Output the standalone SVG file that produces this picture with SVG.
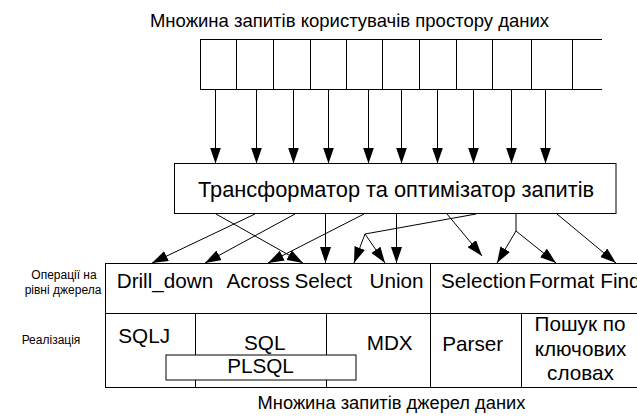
<svg xmlns="http://www.w3.org/2000/svg" width="637" height="418" viewBox="0 0 637 418">
<defs>
<marker id="ah" markerWidth="16" markerHeight="11" refX="16" refY="5.5" orient="auto" markerUnits="userSpaceOnUse"><path d="M0,0 L16,5.5 L0,11 z" fill="#000"/></marker>
<style>
text{font-family:"Liberation Sans",Arial,sans-serif;fill:#000}
.t{font-size:20.7px}
.h{font-size:18.5px}
.s{font-size:12px}
.ln{stroke:#000;stroke-width:1;fill:none}
.box{stroke:#000;stroke-width:1;fill:#fff}
.ar{stroke:#000;stroke-width:1;fill:none;marker-end:url(#ah)}
.m{text-anchor:middle}
</style>
</defs>
<rect width="637" height="418" fill="#fff"/>

<g id="title-users">
<text class="h m" x="349.5" y="27">Множина запитів користувачів простору даних</text>
</g>

<g id="user-queries">
<path class="ln" d="M200,39.5 H602 M200,89.5 H602 M200.5,39 V90 M236.5,39 V90 M273.5,39 V90 M310.5,39 V90 M346.5,39 V90 M382.5,39 V90 M419.5,39 V90 M456.5,39 V90 M492.5,39 V90 M531.5,39 V90 M572.5,39 V90"/>
</g>

<g id="transformer">
<rect class="box" x="174.5" y="163.5" width="441.5" height="50"/>
<text class="m" style="font-size:21.8px" x="396" y="196.5">Трансформатор та оптимізатор запитів</text>
</g>

<g id="row-labels">
<text class="s m" x="64" y="279">Операції на</text>
<text class="s m" x="63" y="294">рівні джерела</text>
<text class="s m" x="51" y="344">Реалізація</text>
</g>

<g id="source-operations">
<path class="ln" d="M105,263.5 H637 M105,313.5 H637 M105.5,263 V388 M105,387.5 H637 M430.5,263 V388"/>
<text class="t" x="116.7" y="287.5">Drill_down</text>
<text class="t" x="226.5" y="287.5">Across</text>
<text class="t" x="294.5" y="287.5">Select</text>
<text class="t" x="369.5" y="287.5">Union</text>
<text class="t" x="441" y="287.5">Selection</text>
<text class="t" x="528.7" y="287.5">Format</text>
<text class="t" x="600.3" y="287.5">Find</text>
</g>

<g id="implementation">
<path class="ln" d="M195.5,313 V388 M326.5,313 V388 M521.5,313 V388"/>
<text class="t" x="118.3" y="343">SQLJ</text>
<text class="t" x="244" y="349.7">SQL</text>
<text class="t" x="366.7" y="349.7">MDX</text>
<text class="t m" x="472.7" y="351.3">Parser</text>
<text class="t m" x="580" y="330.7">Пошук по</text>
<text class="t m" x="580.5" y="355.7">ключових</text>
<text class="t m" x="580.5" y="379.7">словах</text>
</g>

<g id="plsql">
<rect class="box" x="166" y="355" width="190" height="25"/>
<text class="t m" x="260.5" y="373">PLSQL</text>
</g>

<g id="title-sources">
<text class="m" style="font-size:18.3px" x="391.5" y="409">Множина запитів джерел даних</text>
</g>

<g id="connectors">
<line class="ar" x1="215.5" y1="90" x2="215.5" y2="163.5"/>
<line class="ar" x1="256.5" y1="90" x2="256.5" y2="163.5"/>
<line class="ar" x1="293.5" y1="90" x2="293.5" y2="163.5"/>
<line class="ar" x1="328.5" y1="90" x2="328.5" y2="163.5"/>
<line class="ar" x1="368.5" y1="90" x2="368.5" y2="163.5"/>
<line class="ar" x1="401.5" y1="90" x2="401.5" y2="163.5"/>
<line class="ar" x1="437.5" y1="90" x2="437.5" y2="163.5"/>
<line class="ar" x1="473.5" y1="90" x2="473.5" y2="163.5"/>
<line class="ar" x1="511.5" y1="90" x2="511.5" y2="163.5"/>
<line class="ar" x1="545.5" y1="90" x2="545.5" y2="163.5"/>

<line class="ar" x1="255" y1="214" x2="152" y2="263"/>
<line class="ar" x1="295" y1="214" x2="205" y2="263"/>
<line class="ar" x1="216" y1="214" x2="303" y2="263"/>
<line class="ar" x1="325.5" y1="214" x2="325.5" y2="263"/>
<line class="ar" x1="364" y1="214" x2="268" y2="263"/>
<line class="ar" x1="396.5" y1="214" x2="396.5" y2="263"/>
<polyline class="ln" points="476,214 365,234"/>
<line class="ar" x1="365" y1="234" x2="354" y2="263"/>
<line class="ar" x1="365" y1="234" x2="385" y2="263"/>
<line class="ar" x1="447" y1="214" x2="482" y2="256"/>
<line class="ln" x1="516" y1="214" x2="516" y2="231"/>
<line class="ar" x1="516" y1="231" x2="497" y2="263"/>
<line class="ar" x1="516" y1="231" x2="556" y2="263"/>
<line class="ar" x1="557" y1="214" x2="616" y2="263"/>
</g>
</svg>
